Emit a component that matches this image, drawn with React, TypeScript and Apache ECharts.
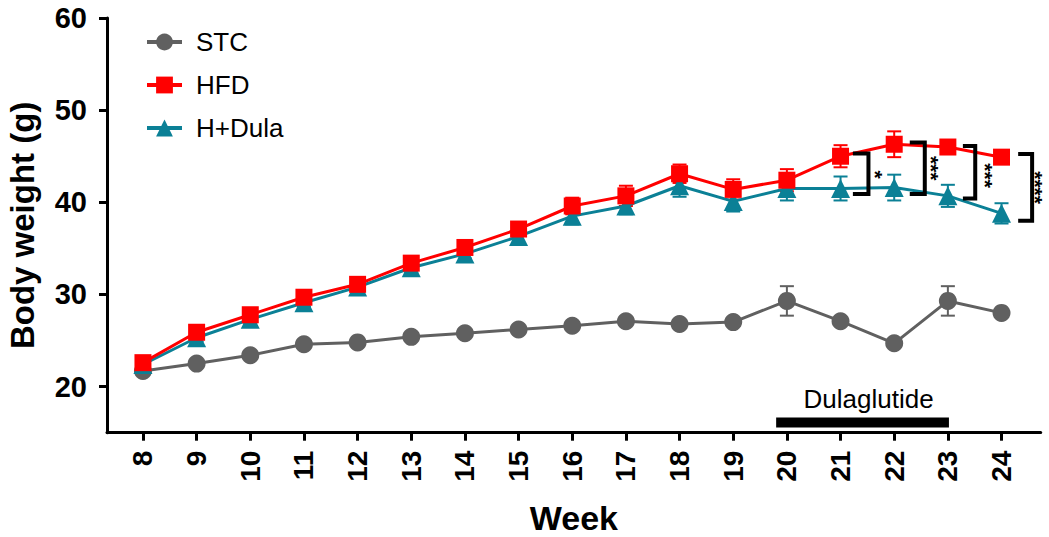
import React, { useEffect, useRef } from "react";
import * as echarts from "echarts";

const WEEKS = [8, 9, 10, 11, 12, 13, 14, 15, 16, 17, 18, 19, 20, 21, 22, 23, 24];
const STC = [21.7, 22.5, 23.4, 24.6, 24.8, 25.4, 25.8, 26.2, 26.6, 27.1, 26.8, 27.0, 29.3, 27.1, 24.7, 29.3, 28.0];
const STC_SEM = [0.3, 0.3, 0.3, 0.3, 0.3, 0.3, 0.3, 0.3, 0.3, 0.3, 0.3, 0.3, 1.6, 0.3, 0.3, 1.6, 0.3];
const HFD = [22.6, 25.9, 27.8, 29.7, 31.1, 33.4, 35.1, 37.1, 39.6, 40.7, 43.1, 41.4, 42.4, 45.0, 46.3, 46.0, 44.9];
const HFD_SEM = [0.3, 0.4, 0.4, 0.4, 0.4, 0.5, 0.5, 0.6, 0.9, 1.1, 1.0, 1.1, 1.2, 1.2, 1.4, 0.6, 0.6];
const DULA = [22.4, 25.3, 27.3, 29.1, 30.8, 32.9, 34.4, 36.3, 38.5, 39.6, 41.8, 40.1, 41.5, 41.5, 41.6, 40.7, 38.8];
const DULA_SEM = [0.3, 0.4, 0.4, 0.4, 0.4, 0.5, 0.5, 0.8, 0.9, 0.9, 1.2, 1.1, 1.3, 1.3, 1.4, 1.2, 1.1];
const Y_TICKS = [20, 30, 40, 50, 60];

// significance brackets: [leftX, rightX, topY, bottomY, labelX, labelY, stars]
const BRACKETS: [number, number, number, number, number, number, string][] = [
  [21.23, 21.52, 45.3, 40.9, 21.66, 43.0, "*"],
  [22.29, 22.57, 46.5, 40.9, 22.70, 43.7, "***"],
  [23.28, 23.51, 46.1, 40.4, 23.70, 42.9, "***"],
  [24.31, 24.57, 45.25, 38.0, 24.64, 41.6, "****"],
];
// treatment period bar
const TREATMENT = [19.8, 23.02];
const TREATMENT_Y = 16.1;
const TREATMENT_LABEL = "Dulaglutide";

const C_STC = "#606060";
const C_HFD = "#ff0000";
const C_DULA = "#0b8096";
const FONT = "Liberation Sans, Arial, Helvetica, sans-serif";

function errorSeries(name: string, vals: number[], sem: number[], color: string) {
  return {
    type: "custom",
    name: name + " err",
    z: 1,
    silent: true,
    clip: false,
    data: WEEKS.map((w, i) => [w, vals[i] - sem[i], vals[i] + sem[i]]),
    renderItem: (params: any, api: any) => {
      const x = api.value(0);
      const lo = api.coord([x, api.value(1)]);
      const hi = api.coord([x, api.value(2)]);
      const hw = 7;
      const st = { stroke: color, lineWidth: 2 };
      return {
        type: "group",
        children: [
          { type: "line", shape: { x1: lo[0], y1: lo[1], x2: hi[0], y2: hi[1] }, style: st },
          { type: "line", shape: { x1: lo[0] - hw, y1: lo[1], x2: lo[0] + hw, y2: lo[1] }, style: st },
          { type: "line", shape: { x1: hi[0] - hw, y1: hi[1], x2: hi[0] + hw, y2: hi[1] }, style: st },
        ],
      };
    },
  };
}

function lineSeries(name: string, vals: number[], color: string, symbol: string, size: number) {
  return {
    type: "line",
    name,
    z: 3,
    data: WEEKS.map((w, i) => [w, vals[i]]),
    symbol,
    symbolSize: size,
    showSymbol: true,
    itemStyle: { color },
    lineStyle: { color, width: 3 },
  };
}

export default function App() {
  const ref = useRef<HTMLDivElement>(null);
  useEffect(() => {
    if (!ref.current) return;
    const chart = echarts.init(ref.current, undefined, { renderer: "svg" });
    chart.setOption({
      animation: false,
      backgroundColor: "#ffffff",
      grid: { left: 107, top: 18, width: 933.7, height: 414.7, containLabel: false, outerBoundsMode: "none" },
      legend: {
        data: ["STC", "HFD", "H+Dula"],
        orient: "vertical",
        left: 140,
        top: 24,
        itemWidth: 35,
        itemHeight: 21,
        itemGap: 17,
        lineStyle: { width: 4 },
        textStyle: { fontSize: 26, color: "#000", fontFamily: FONT, padding: [0, 0, 0, 9] },
      },
      xAxis: {
        type: "value",
        min: 7.33,
        max: 24.73,
        name: "Week",
        nameLocation: "middle",
        nameGap: 68,
        nameTextStyle: { fontSize: 34, fontWeight: "bold", color: "#000", fontFamily: FONT },
        axisLine: { show: true, onZero: false, lineStyle: { color: "#000", width: 3 } },
        axisTick: { show: true, customValues: WEEKS, length: 8, lineStyle: { color: "#000", width: 3 } },
        axisLabel: {
          customValues: WEEKS,
          rotate: 90,
          margin: 18,
          fontSize: 28,
          fontWeight: "bold",
          color: "#000",
          fontFamily: FONT,
        },
        splitLine: { show: false },
      },
      yAxis: {
        type: "value",
        min: 15,
        max: 60,
        name: "Body weight (g)",
        nameLocation: "middle",
        nameGap: 68,
        nameTextStyle: { fontSize: 33, fontWeight: "bold", color: "#000", fontFamily: FONT },
        axisLine: { show: true, onZero: false, lineStyle: { color: "#000", width: 3 } },
        axisTick: { show: true, customValues: Y_TICKS, length: 8, lineStyle: { color: "#000", width: 3 } },
        axisLabel: {
          customValues: Y_TICKS,
          margin: 20,
          fontSize: 29,
          fontWeight: "bold",
          color: "#000",
          fontFamily: FONT,
        },
        splitLine: { show: false },
      },
      series: [
        errorSeries("STC", STC, STC_SEM, C_STC),
        errorSeries("H+Dula", DULA, DULA_SEM, C_DULA),
        errorSeries("HFD", HFD, HFD_SEM, C_HFD),
        lineSeries("STC", STC, C_STC, "circle", 18),
        lineSeries("H+Dula", DULA, C_DULA, "triangle", 19),
        lineSeries("HFD", HFD, C_HFD, "rect", 17),
        {
          type: "custom",
          name: "brackets",
          silent: true,
          clip: false,
          z: 5,
          data: BRACKETS.map((b) => [b[0], b[1], b[2], b[3], b[4], b[5]]),
          renderItem: (params: any, api: any) => {
            const b = BRACKETS[params.dataIndex];
            const p1 = api.coord([b[0], b[2]]);
            const p2 = api.coord([b[1], b[2]]);
            const p3 = api.coord([b[1], b[3]]);
            const p4 = api.coord([b[0], b[3]]);
            const lp = api.coord([b[4], b[5]]);
            return {
              type: "group",
              children: [
                {
                  type: "polyline",
                  shape: { points: [p1, p2, p3, p4] },
                  style: { stroke: "#000", lineWidth: 4, fill: null, lineJoin: "miter" },
                },
                {
                  type: "text",
                  x: lp[0],
                  y: lp[1],
                  rotation: -Math.PI / 2,
                  style: {
                    text: b[6],
                    fontSize: 21,
                    lineHeight: 14,
                    fontWeight: "bold",
                    fontFamily: FONT,
                    fill: "#000",
                    align: "center",
                    verticalAlign: "middle",
                  },
                },
              ],
            };
          },
        },
        {
          type: "custom",
          name: "treatment",
          silent: true,
          clip: false,
          z: 5,
          data: [[TREATMENT[0], TREATMENT[1], TREATMENT_Y]],
          renderItem: (params: any, api: any) => {
            const a = api.coord([api.value(0), api.value(2)]);
            const b = api.coord([api.value(1), api.value(2)]);
            return {
              type: "group",
              children: [
                { type: "rect", shape: { x: a[0], y: a[1] - 5, width: b[0] - a[0], height: 10 }, style: { fill: "#000" } },
                {
                  type: "text",
                  x: (a[0] + b[0]) / 2 + 6,
                  y: a[1] - 11,
                  style: {
                    text: TREATMENT_LABEL,
                    fontSize: 26,
                    fontFamily: FONT,
                    fill: "#000",
                    align: "center",
                    verticalAlign: "bottom",
                  },
                },
              ],
            };
          },
        },
      ],
    });
    return () => chart.dispose();
  }, []);
  return <div ref={ref} style={{ position: "fixed", left: 0, top: 0, width: 1049, height: 537 }} />;
}
